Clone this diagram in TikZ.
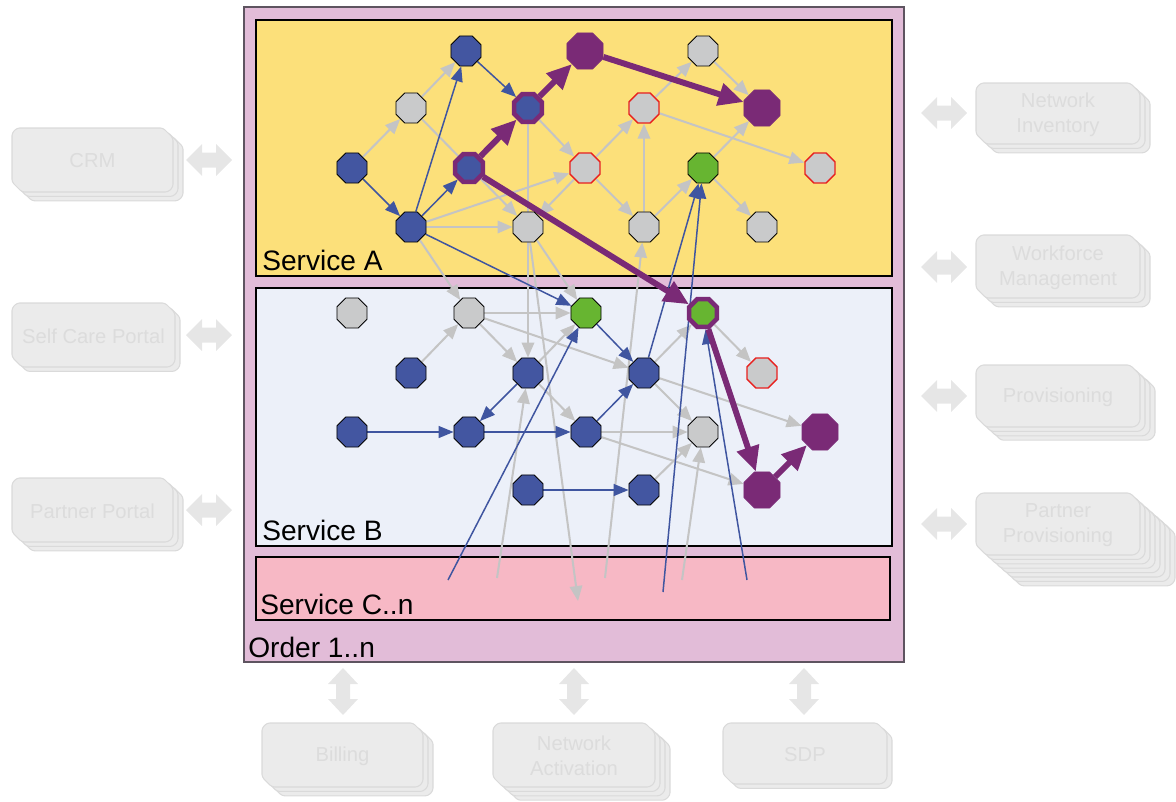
\documentclass[tikz,border=0pt]{standalone}
\usepackage{fontspec}
\setmainfont{Liberation Sans}
\usetikzlibrary{shapes.geometric,arrows.meta,fit}

\definecolor{orderfill}{HTML}{E2BCD8}
\definecolor{orderline}{HTML}{5E5460}
\definecolor{svcA}{HTML}{FCE07A}
\definecolor{svcB}{HTML}{ECF0F9}
\definecolor{svcC}{HTML}{F7B8C5}
\definecolor{nblue}{HTML}{4356A1}
\definecolor{ngray}{HTML}{C9CACB}
\definecolor{ngreen}{HTML}{67B531}
\definecolor{npurple}{HTML}{7A2A76}
\definecolor{nred}{HTML}{E8201E}
\definecolor{lgray}{HTML}{C4C4C4}
\definecolor{lblue}{HTML}{3F55A0}
\definecolor{sysfill}{HTML}{EBEBEB}
\definecolor{sysedge}{HTML}{DADADA}
\definecolor{systxt}{HTML}{DCDCDC}
\definecolor{fadearr}{HTML}{E6E6E6}

\pgfdeclarelayer{back}
\pgfdeclarelayer{wires}
\pgfsetlayers{back,wires,main}

% stacked external system box: name, x, y, width, height, copies, text
\newcommand\sysbox[7]{%
  \foreach \k in {#6,...,1}{%
    \draw[sysline, shift={(\k*5,\k*4.4)}] (#2+5,#3) -- (#2+#4-10,#3) -- (#2+#4,#3+10)
      -- (#2+#4,#3+#5-5) -- (#2+#4-5,#3+#5) -- (#2+10,#3+#5) -- (#2,#3+#5-10)
      -- (#2,#3+5) -- cycle;
  }
  \draw[sysline] (#2+5,#3) -- (#2+#4-10,#3) -- (#2+#4,#3+10)
      -- (#2+#4,#3+#5-5) -- (#2+#4-5,#3+#5) -- (#2+10,#3+#5) -- (#2,#3+#5-10)
      -- (#2,#3+5) -- cycle;
  \node[systext] (#1) at (#2+#4/2,#3+#5/2+1) {#7};
}
% horizontal double arrow centred at (x,y)
\newcommand\harrow[2]{%
  \fill[fadearr] (#1-23,#2) -- ++(16,-16) -- ++(0,8.5) -- ++(14,0) -- ++(0,-8.5)
    -- ++(16,16) -- ++(-16,16) -- ++(0,-8.5) -- ++(-14,0) -- ++(0,8.5) -- cycle;
}
% vertical double arrow centred at (x,y)
\newcommand\varrow[2]{%
  \fill[fadearr] (#1,#2-23.5) -- ++(15,16) -- ++(-8,0) -- ++(0,15) -- ++(8,0)
    -- ++(-15,16) -- ++(-15,-16) -- ++(8,0) -- ++(0,-15) -- ++(-8,0) -- cycle;
}

\begin{document}
\begin{tikzpicture}[x=0.02cm,y=-0.02cm,
  st/.style={regular polygon, regular polygon sides=8, minimum size=0.65cm,
    inner sep=0pt, draw=black, line width=0.5pt},
  bnode/.style={st, fill=nblue},
  gnode/.style={st, fill=ngray},
  rnode/.style={st, fill=ngray, draw=nred, line width=0.8pt},
  grnode/.style={st, fill=ngreen},
  pnode/.style={st, fill=npurple, draw=npurple, minimum size=0.78cm},
  ringb/.style={st, fill=nblue, draw=npurple, line width=2.6pt, minimum size=0.6cm},
  ringg/.style={st, fill=ngreen, draw=npurple, line width=2.6pt, minimum size=0.6cm},
  gw/.style={draw=lgray, line width=1.15pt, -{Triangle[length=0.3cm,width=0.25cm]}},
  bw/.style={draw=lblue, line width=0.85pt, -{Triangle[length=0.3cm,width=0.24cm]}},
  pw/.style={draw=npurple, line width=3.4pt, -{Triangle[length=0.5cm,width=0.44cm]}},
  box/.style={inner sep=0pt, line width=0.6pt, draw=black},
  lbl/.style={anchor=base west, inner sep=0pt, font=\fontsize{16pt}{19pt}\selectfont},
  sysline/.style={fill=sysfill, draw=sysedge, line width=0.6pt, rounded corners=1.5pt},
  systext/.style={text=systxt, align=center, inner sep=0pt,
    font=\fontsize{11.5pt}{14pt}\selectfont},
]
\useasboundingbox (0,0) rectangle (1176,801);

% ---------------- containers ----------------
\begin{pgfonlayer}{back}
  \node[box, fill=orderfill, draw=orderline, fit={(244,7) (904,662)}] (order) {};
  \node[box, fill=svcA, fit={(256,20) (892,276)}] (svcA) {};
  \node[box, fill=svcB, fit={(256,288) (892,546)}] (svcB) {};
  \node[box, fill=svcC, fit={(256,557) (890,620)}] (svcC) {};
  \node[lbl] (labA) at (262,270) {Service A};
  \node[lbl] (labB) at (262,540) {Service B};
  \node[lbl] (labC) at (260,614) {Service C..n};
  \node[lbl] (labO) at (248,657) {Order 1..n};

  % surrounding systems
  \sysbox{crm}{12}{128}{161}{64}{2}{CRM}
  \sysbox{scp}{12}{303}{163}{64}{1}{Self Care Portal}
  \sysbox{ppo}{12}{478}{161}{64}{2}{Partner Portal}
  \sysbox{ninv}{976}{83}{164}{61}{2}{Network\\Inventory}
  \sysbox{wfm}{976}{235}{164}{63}{2}{Workforce\\Management}
  \sysbox{prov}{976}{365}{164}{62}{3}{Provisioning}
  \sysbox{pprov}{976}{493}{164}{62}{7}{Partner\\Provisioning}
  \sysbox{bill}{262}{723}{161}{64}{2}{Billing}
  \sysbox{nact}{493}{723}{162}{64}{3}{Network\\Activation}
  \sysbox{sdp}{723}{723}{164}{61}{1}{SDP}

  \harrow{209}{160}
  \harrow{209}{335}
  \harrow{209}{510}
  \harrow{944}{113}
  \harrow{944}{267}
  \harrow{944}{396}
  \harrow{944}{524}
  \varrow{343}{691.5}
  \varrow{574}{691.5}
  \varrow{804}{691.5}
\end{pgfonlayer}

% ---------------- Service A tasks ----------------
\node[bnode]  (a1)  at (466,51)  {};
\node[pnode]  (a2)  at (585,51)  {};
\node[gnode]  (a3)  at (703,51)  {};
\node[gnode]  (a4)  at (411,108) {};
\node[ringb]  (a5)  at (528,108) {};
\node[rnode]  (a6)  at (644,108) {};
\node[pnode]  (a7)  at (762,108) {};
\node[bnode]  (a8)  at (352,168) {};
\node[ringb]  (a9)  at (469,168) {};
\node[rnode]  (a10) at (585,168) {};
\node[grnode] (a11) at (703,168) {};
\node[rnode]  (a12) at (820,168) {};
\node[bnode]  (a13) at (411,227) {};
\node[gnode]  (a14) at (528,227) {};
\node[gnode]  (a15) at (644,227) {};
\node[gnode]  (a16) at (762,227) {};

% ---------------- Service B tasks ----------------
\node[gnode]  (b1)  at (352,313) {};
\node[gnode]  (b2)  at (469,313) {};
\node[grnode] (b3)  at (586,313) {};
\node[ringg]  (b4)  at (703,313) {};
\node[bnode]  (b5)  at (411,373) {};
\node[bnode]  (b6)  at (528,373) {};
\node[bnode]  (b7)  at (644,373) {};
\node[rnode]  (b8)  at (762,373) {};
\node[bnode]  (b9)  at (352,432) {};
\node[bnode]  (b10) at (469,432) {};
\node[bnode]  (b11) at (586,432) {};
\node[gnode]  (b12) at (703,432) {};
\node[pnode]  (b13) at (820,432) {};
\node[bnode]  (b14) at (528,490) {};
\node[bnode]  (b15) at (644,490) {};
\node[pnode]  (b16) at (762,490) {};

% links reaching into Service C..n
\coordinate (c1) at (448,580);
\coordinate (c2) at (497,578);
\coordinate (c3) at (578,601);
\coordinate (c4) at (605,578);
\coordinate (c5) at (663,592);
\coordinate (c6) at (682,580);
\coordinate (c7) at (747,580);

% ---------------- dependencies ----------------
\begin{pgfonlayer}{wires}
  % inactive
  \draw[gw] (a8) -- (a4);
  \draw[gw] (a4) -- (a1);
  \draw[gw] (a4) -- (a14);
  \draw[gw] (a13) -- (a14);
  \draw[gw] (a13) -- (a10);
  \draw[gw] (a13) -- (b2);
  \draw[gw] (a5) -- (a10);
  \draw[gw] (a5) -- (b6);
  \draw[gw] (a10) -- (a14);
  \draw[gw] (a10) -- (a6);
  \draw[gw] (a10) -- (a15);
  \draw[gw] (a15) -- (a6);
  \draw[gw] (a15) -- (a11);
  \draw[gw] (a6) -- (a3);
  \draw[gw] (a6) -- (a12);
  \draw[gw] (a3) -- (a7);
  \draw[gw] (a11) -- (a7);
  \draw[gw] (a11) -- (a16);
  \draw[gw] (a14) -- (b3);
  \draw[gw] (a14) -- (c3);
  \draw[gw] (c4) -- (a15);
  \draw[gw] (b5) -- (b2);
  \draw[gw] (b2) -- (b3);
  \draw[gw] (b2) -- (b6);
  \draw[gw] (b2) -- (b7);
  \draw[gw] (b6) -- (b3);
  \draw[gw] (b6) -- (b11);
  \draw[gw] (c2) -- (b6);
  \draw[gw] (b11) -- (b12);
  \draw[gw] (b11) -- (b16);
  \draw[gw] (b7) -- (b12);
  \draw[gw] (b7) -- (b13);
  \draw[gw] (b7) -- (b4);
  \draw[gw] (b15) -- (b12);
  \draw[gw] (c6) -- (b12);
  \draw[gw] (b4) -- (b8);
  % active
  \draw[bw] (a8) -- (a13);
  \draw[bw] (a13) -- (a1);
  \draw[bw] (a1) -- (a5);
  \draw[bw] (a13) -- (a9);
  \draw[bw] (a13) -- (b3);
  \draw[bw] (b6) -- (b10);
  \draw[bw] (b9) -- (b10);
  \draw[bw] (b10) -- (b11);
  \draw[bw] (b11) -- (b7);
  \draw[bw] (b3) -- (b7);
  \draw[bw] (b7) -- (a11);
  \draw[bw] (c5) -- (a11);
  \draw[bw] (c1) -- (b3);
  \draw[bw] (c7) -- (b4);
  \draw[bw] (b14) -- (b15);
  % critical path
  \draw[pw] (a9) -- (a5);
  \draw[pw] (a5) -- (a2);
  \draw[pw] (a2) -- (a7);
  \draw[pw] (a9) -- (b4);
  \draw[pw] (b4) -- (b16);
  \draw[pw] (b16) -- (b13);
\end{pgfonlayer}
\end{tikzpicture}
\end{document}
